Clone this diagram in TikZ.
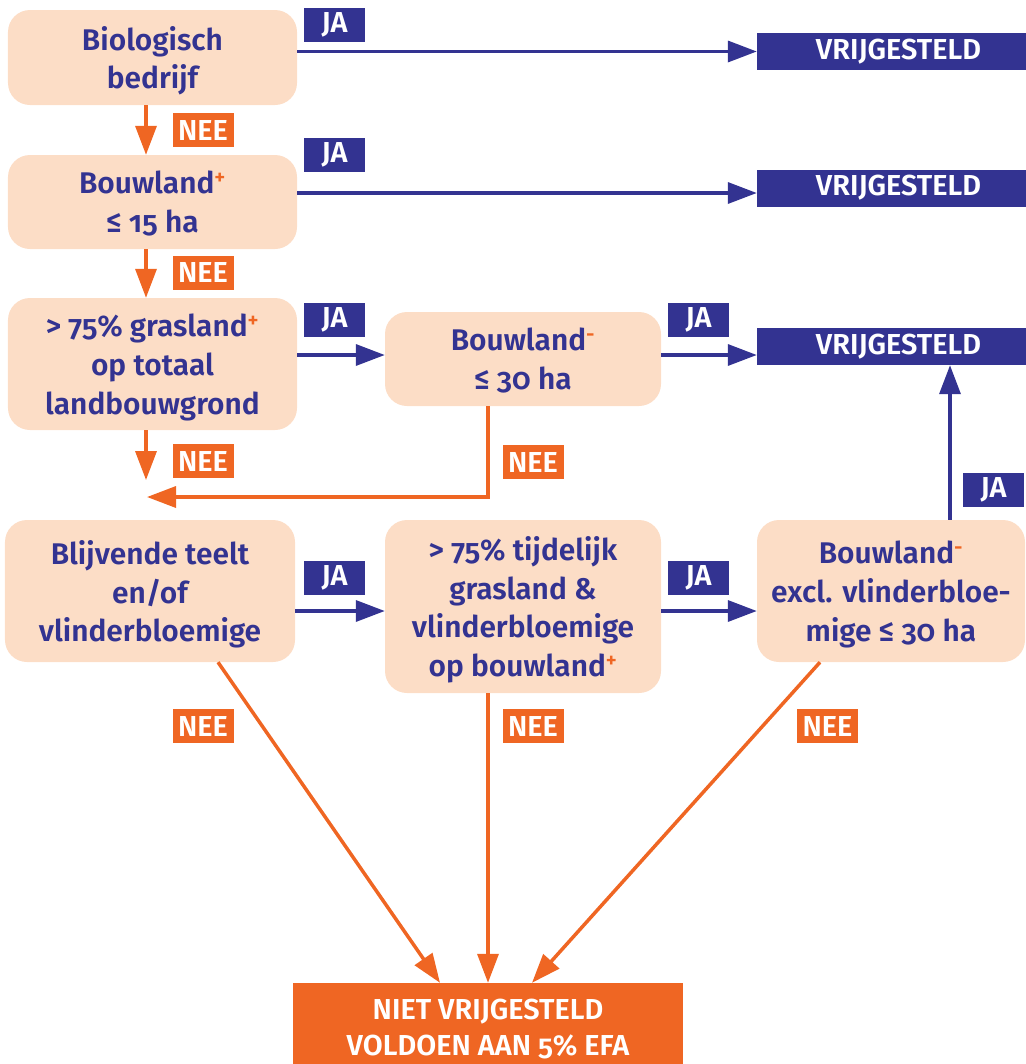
\documentclass[tikz,border=0pt]{standalone}
\usepackage{fontspec}
\setmainfont{Fira Sans}[Numbers=OldStyle, BoldFont={* SemiBold}]
\usetikzlibrary{arrows.meta}
\definecolor{cblue}{RGB}{51,51,145}
\definecolor{corange}{RGB}{239,102,35}
\definecolor{cpeach}{RGB}{252,221,198}
\newcommand{\plusmark}{\textsuperscript{\color{corange}+}}
\newcommand{\minmark}{\textsuperscript{\color{corange}-}}
\tikzset{
  qbox/.style={fill=cpeach, rounded corners=22bp, text=cblue, align=center,
    font=\bfseries\fontsize{30}{39}\selectfont, inner sep=0pt, text depth=0pt},
  vbox/.style={fill=cblue, text=white, inner sep=0pt, minimum width=283bp, minimum height=37bp,
    font=\bfseries\fontsize{29}{29}\selectfont},
  fbox/.style={fill=corange, text=white, inner sep=0pt, align=center,
    font=\bfseries\fontsize{29}{36}\selectfont},
  jalab/.style={fill=cblue, text=white, minimum width=61bp, minimum height=34bp, inner sep=0pt,
    font=\bfseries\fontsize{29}{29}\selectfont},
  neelab/.style={jalab, fill=corange},
  yesarr/.style={draw=cblue, line width=3.5bp, -{Triangle[length=29bp,width=21bp]}},
  noarr/.style={draw=corange, line width=3.5bp, -{Triangle[length=29bp,width=21bp]}},
}
\begin{document}
\begin{tikzpicture}[x=1bp, y=-1bp]
\useasboundingbox (0,0) rectangle (1026,1064);
\clip (0,0) rectangle (1026,1064);

% question boxes
\node[qbox, minimum width=289bp, minimum height=95bp] (b1) at (152.5,57.5) {Biologisch\\bedrijf};
\node[qbox, minimum width=289bp, minimum height=94bp] (b2) at (152.5,202) {Bouwland\plusmark\\≤ 15 ha};
\node[qbox, minimum width=289bp, minimum height=132bp] (b3) at (152.5,364) {> 75\% grasland\plusmark\\op totaal\\landbouwgrond};
\node[qbox, minimum width=276bp, minimum height=94bp] (b4) at (523,359) {Bouwland\minmark\\≤ 30 ha};
\node[qbox, minimum width=290bp, minimum height=142bp] (b5) at (150,591) {Blijvende teelt\\en/of\\vlinderbloemige};
\node[qbox, minimum width=276bp, minimum height=173bp] (b6) at (523,606.5) {> 75\% tijdelijk\\grasland \&\\vlinderbloemige\\op bouwland\plusmark};
\node[qbox, minimum width=268bp, minimum height=142bp] (b7) at (891,591) {Bouwland\minmark\\excl. vlinderbloe-\\mige ≤ 30 ha};

% result boxes
\node[vbox] (v1) at (898.5,51.5) {VRIJGESTELD};
\node[vbox] (v2) at (898.5,188) {VRIJGESTELD};
\node[vbox] (v3) at (898.5,346.5) {VRIJGESTELD};
\node[fbox, minimum width=390bp, minimum height=92bp] (fin) at (488,1029) {NIET VRIJGESTELD\\VOLDOEN AAN 5\% EFA};

% helper coordinates
\coordinate (ya) at (0,193);
\coordinate (yb) at (0,355);
\coordinate (yc) at (0,611);
\coordinate (xa) at (146,0);
\coordinate (xb) at (488,0);
\coordinate (xc) at (950,0);
\coordinate (d1s) at (218,0);
\coordinate (d1e) at (440,0);
\coordinate (d3s) at (820,0);
\coordinate (d3e) at (532,0);
\coordinate (e3) at (146,480);
\coordinate (e4) at (147,497);

% JA arrows
\draw[yesarr] (b1.east |- v1.west) -- (v1.west);
\draw[yesarr] (b2.east |- ya) -- (v2.west |- ya);
\draw[yesarr] (b3.east |- yb) -- (b4.west |- yb);
\draw[yesarr] (b4.east |- yb) -- (v3.west |- yb);
\draw[yesarr] (b5.east |- yc) -- (b6.west |- yc);
\draw[yesarr] (b6.east |- yc) -- (b7.west |- yc);
\draw[yesarr] (b7.north -| xc) -- (v3.south -| xc);

% NEE arrows
\draw[noarr] (b1.south -| xa) -- (b2.north -| xa);
\draw[noarr] (b2.south -| xa) -- (b3.north -| xa);
\draw[noarr] (b3.south -| xa) -- (e3);
\draw[noarr] (b4.south -| xb) |- (e4);
\draw[noarr] (b5.south -| d1s) -- (fin.north -| d1e);
\draw[noarr] (b6.south -| xb) -- (fin.north -| xb);
\draw[noarr] (b7.south -| d3s) -- (fin.north -| d3e);

% labels
\node[jalab] (ja1) at (334.5,25) {JA};
\node[jalab] (ja2) at (334.5,155) {JA};
\node[jalab] (ja3) at (334.5,320) {JA};
\node[jalab] (ja4) at (698.5,320) {JA};
\node[jalab] (ja5) at (993.5,490) {JA};
\node[jalab] (ja6) at (334.5,577.5) {JA};
\node[jalab] (ja7) at (698.5,577.5) {JA};
\node[neelab] (nee1) at (203,130) {NEE};
\node[neelab] (nee2) at (203,272.5) {NEE};
\node[neelab] (nee3) at (203,461) {NEE};
\node[neelab] (nee4) at (533,462) {NEE};
\node[neelab] (nee5) at (203,726) {NEE};
\node[neelab] (nee6) at (533,726) {NEE};
\node[neelab] (nee7) at (827.5,726) {NEE};
\end{tikzpicture}
\end{document}
